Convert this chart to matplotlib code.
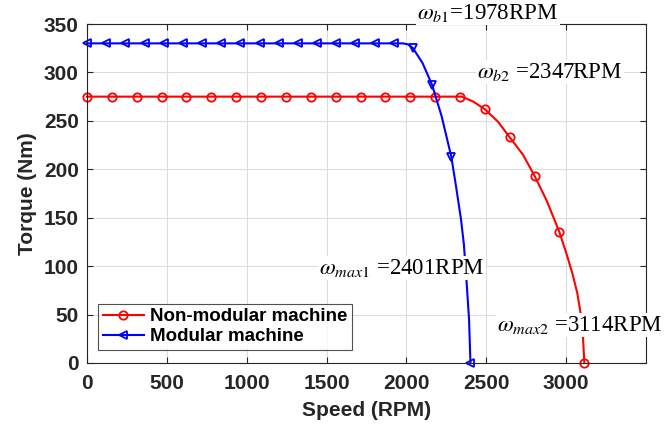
import matplotlib

matplotlib.use("Agg")
import matplotlib.pyplot as plt

plt.rcParams["font.family"] = ["Liberation Sans", "DejaVu Sans"]
plt.rcParams["mathtext.fontset"] = "stix"

# Non-modular machine: curve points
red_speed = [0, 155.7, 311.4, 467.1, 622.8, 778.5, 934.2, 1089.9, 1245.6,
             1401.3, 1557, 1712.7, 1868.4, 2024.1, 2179.8, 2335.5, 2347,
             2417, 2491, 2574, 2647, 2730, 2803, 2880, 2958, 3000, 3040,
             3070, 3090, 3105, 3114]
red_torque = [275, 275, 275, 275, 275, 275, 275, 275, 275, 275, 275, 275,
              275, 275, 275, 275, 275, 270, 262, 249, 233, 215, 193, 167,
              135, 114, 92, 72, 52, 28, 0]
red_marks = [0, 1, 2, 3, 4, 5, 6, 7, 8, 9, 10, 11, 12, 13, 14, 15, 18, 20,
             22, 24, 30]

# Modular machine
blue_speed = [0, 120, 240.1, 360.2, 480.2, 600.3, 720.3, 840.4, 960.4,
              1080.5, 1200.5, 1320.6, 1440.7, 1560.7, 1680.8, 1800.8,
              1920.9, 1978, 2010, 2041, 2100, 2161, 2220, 2281, 2310, 2342,
              2360, 2379, 2392, 2401]
blue_torque = [330, 330, 330, 330, 330, 330, 330, 330, 330, 330, 330, 330,
               330, 330, 330, 330, 330, 330, 329, 325, 310, 287, 255, 213,
               183, 148, 122, 78, 45, 0]
blue_left_marks = [0, 1, 2, 3, 4, 5, 6, 7, 8, 9, 10, 11, 12, 13, 14, 15, 16,
                   29]
blue_down_marks = [19, 21, 23]

fig = plt.figure(figsize=(6.64, 4.29), dpi=100)
ax = fig.add_axes([87 / 664, 1 - 363 / 429, 559 / 664, 339 / 429])

ax.plot(red_speed, red_torque, "-o", color="red", lw=1.5, ms=6,
        mfc="none", mew=1.3, markevery=red_marks, clip_on=False,
        label="Non-modular machine")
ax.plot(blue_speed, blue_torque, "-<", color="blue", lw=1.5, ms=6,
        mfc="none", mew=1.3, markevery=blue_left_marks, clip_on=False,
        label="Modular machine")
ax.plot([blue_speed[i] for i in blue_down_marks],
        [blue_torque[i] for i in blue_down_marks], "v", color="blue",
        ms=6, mfc="none", mew=1.3, ls="none")

ax.set_xlim(0, 3500)
ax.set_ylim(0, 350)
ax.set_xticks([0, 500, 1000, 1500, 2000, 2500, 3000])
ax.set_yticks([0, 50, 100, 150, 200, 250, 300, 350])
ax.grid(True, color="#dcdcdc", lw=0.8)
ax.set_axisbelow(True)
ax.tick_params(direction="in", top=True, right=True, labelsize=15,
               colors="#262626", length=4)
ax.tick_params(axis="x", pad=8)
ax.tick_params(axis="y", pad=6)
for lab in ax.get_xticklabels() + ax.get_yticklabels():
    lab.set_fontweight("bold")
for sp in ax.spines.values():
    sp.set_color("#262626")
    sp.set_linewidth(0.8)

ax.set_xlabel("Speed (RPM)", fontsize=15, fontweight="bold", labelpad=6,
              color="#262626")
ax.set_ylabel("Torque (Nm)", fontsize=15, fontweight="bold", labelpad=5,
              color="#262626")

leg = ax.legend(loc="lower left", prop={"weight": "bold", "size": 13.5},
                frameon=True, fancybox=False, edgecolor="#262626",
                borderpad=0.25, labelspacing=0.15, handlelength=2.2,
                handletextpad=0.3, borderaxespad=0,
                bbox_to_anchor=(0.02, 0.038))
leg.get_frame().set_linewidth(0.8)

notes = [
    (r"$\omega_{b1}$=1978RPM", 488, 13),
    (r"$\omega_{b2}$ =2347RPM", 550, 72),
    (r"$\omega_{max1}$ =2401RPM", 402, 268),
    (r"$\omega_{max2}$ =3114RPM", 580, 325),
]
for txt, px, py in notes:
    fig.text(px / 664, 1 - py / 429, txt, ha="center", va="center",
             fontsize=16.5, family="Liberation Serif", zorder=10,
             bbox=dict(facecolor="white", edgecolor="none", pad=1))

fig.savefig("out.png", dpi=100)
